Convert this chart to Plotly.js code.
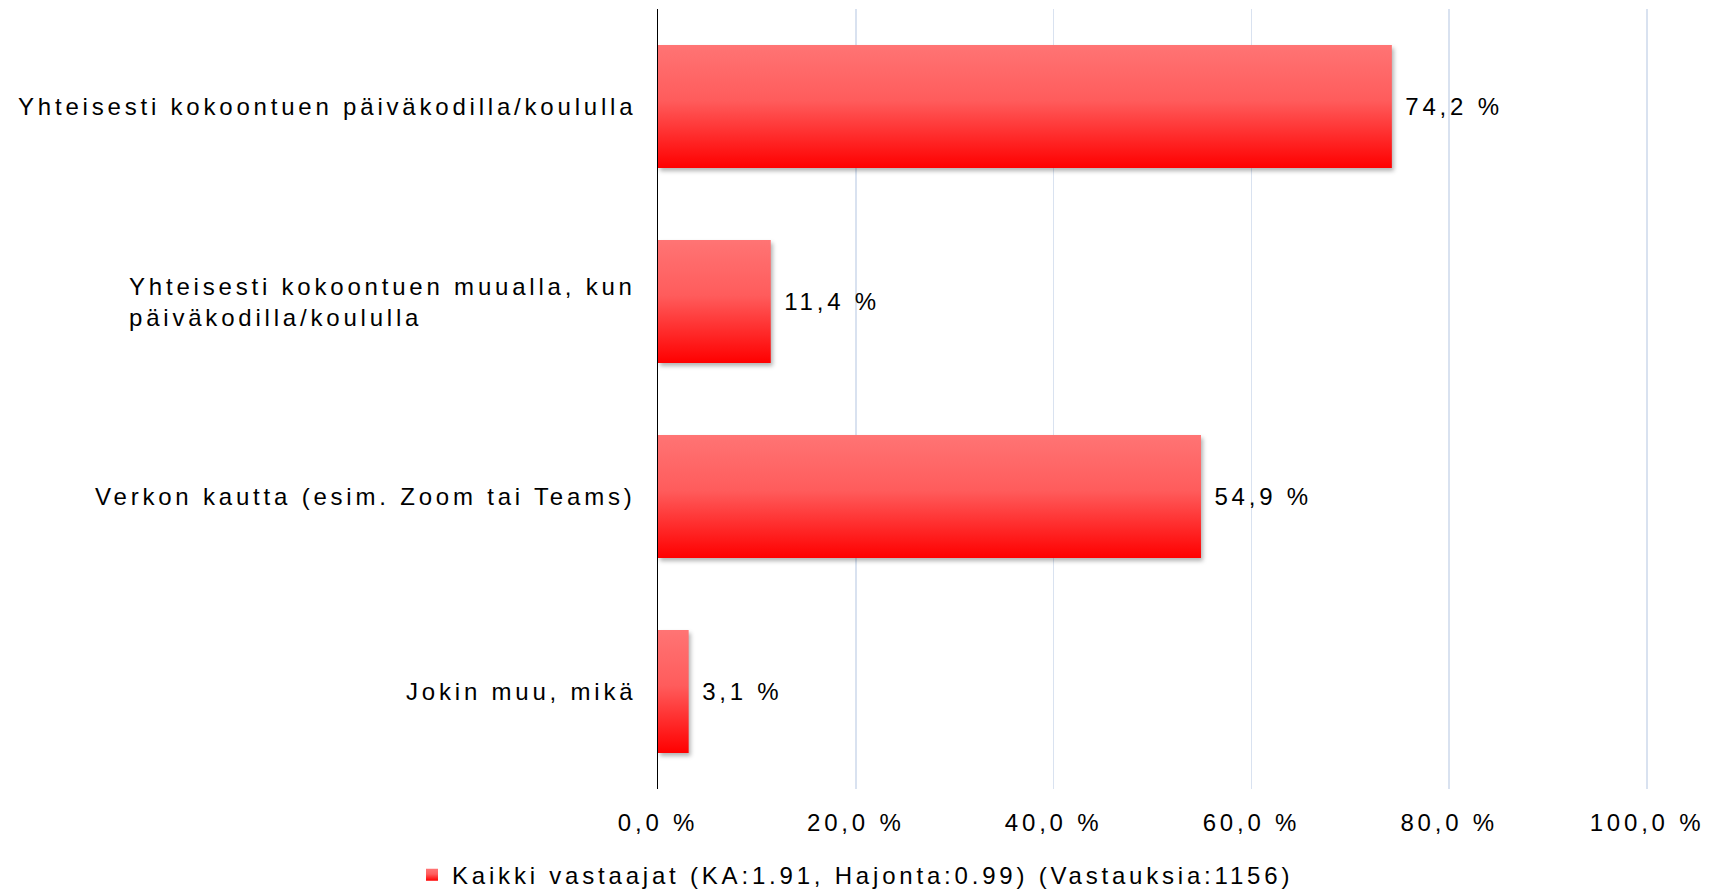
<!DOCTYPE html>
<html>
<head>
<meta charset="utf-8">
<script src="https://cdn.plot.ly/plotly-3.0.1.min.js"></script>
<style>
  html, body { margin: 0; padding: 0; background: #fff; }
  #chart { width: 1711px; height: 893px; }
  svg text { letter-spacing: 3.8px; }
</style>
</head>
<body>
<div id="chart"></div>
<script>
// Data
const categories = [
  "Yhteisesti kokoontuen päiväkodilla/koululla",
  "Yhteisesti kokoontuen muualla, kun päiväkodilla/koululla",
  "Verkon kautta (esim. Zoom tai Teams)",
  "Jokin muu, mikä"
];
const categoryLabels = [
  "Yhteisesti kokoontuen päiväkodilla/koululla",
  "Yhteisesti kokoontuen muualla, kun<br>päiväkodilla/koululla",
  "Verkon kautta (esim. Zoom tai Teams)",
  "Jokin muu, mikä"
];
const values = [74.2, 11.4, 54.9, 3.1];
const seriesName = "Kaikki vastaajat (KA:1.91, Hajonta:0.99) (Vastauksia:1156)";
const xTicks = [0, 20, 40, 60, 80, 100];
const xTickText = ["0,0 %", "20,0 %", "40,0 %", "60,0 %", "80,0 %", "100,0 %"];

const font = { family: "Liberation Sans, Arial, sans-serif", size: 24, color: "#000" };

const trace = {
  type: "bar",
  orientation: "h",
  y: categories,
  x: values,
  name: seriesName,
  width: 0.63,
  marker: { color: "#ff3a3a", line: { width: 0 } },
  texttemplate: " %{x:.1f} %",
  textposition: "outside",
  textfont: font,
  cliponaxis: false,
  showlegend: true,
  hoverinfo: "x+y"
};

const annotations = categories.map((c, i) => ({
  xref: "paper", yref: "y",
  x: 0, y: c,
  xanchor: "right", yanchor: "middle",
  xshift: -20,
  align: "left",
  text: categoryLabels[i],
  showarrow: false,
  font: font
}));

const layout = {
  width: 1711, height: 893,
  margin: { l: 658, r: 61, t: 9, b: 104 },
  paper_bgcolor: "#fff",
  plot_bgcolor: "#fff",
  separators: ", ",
  font: font,
  showlegend: true,
  legend: {
    orientation: "h",
    xref: "container", yref: "container",
    x: 0.5, xanchor: "center",
    y: 0.02, yanchor: "middle",
    font: font,
    itemwidth: 30,
    itemsizing: "constant"
  },
  xaxis: {
    range: [0, 100.3],
    tickmode: "array",
    tickvals: xTicks,
    ticktext: xTickText,
    showgrid: true,
    gridcolor: "#d9e2f0",
    gridwidth: 1.5,
    zeroline: false,
    showline: false,
    ticks: "",
    ticklabelstandoff: 17,
    tickfont: font,
    fixedrange: true
  },
  yaxis: {
    autorange: "reversed",
    showticklabels: false,
    showgrid: false,
    zeroline: false,
    showline: true,
    linecolor: "#000",
    linewidth: 1.5,
    ticks: "",
    fixedrange: true
  },
  annotations: annotations,
  bargap: 0.37
};

const gd = document.getElementById("chart");
Plotly.newPlot(gd, [trace], layout, { displayModeBar: false, staticPlot: true }).then(() => {
  const svgNS = "http://www.w3.org/2000/svg";
  const svg = gd.querySelector(".main-svg");
  let defs = svg.querySelector("defs");
  if (!defs) { defs = document.createElementNS(svgNS, "defs"); svg.insertBefore(defs, svg.firstChild); }
  const grad = document.createElementNS(svgNS, "linearGradient");
  grad.setAttribute("id", "barGrad");
  grad.setAttribute("x1", "0"); grad.setAttribute("y1", "0");
  grad.setAttribute("x2", "0"); grad.setAttribute("y2", "1");
  [["0", "#ff7474"], ["0.45", "#ff5c5c"], ["1", "#ff0000"]].forEach(([o, c]) => {
    const s = document.createElementNS(svgNS, "stop");
    s.setAttribute("offset", o); s.setAttribute("stop-color", c);
    grad.appendChild(s);
  });
  defs.appendChild(grad);
  gd.querySelectorAll(".bars .point path").forEach(p => {
    p.style.fill = "url(#barGrad)";
    p.style.filter = "drop-shadow(2px 3px 2px rgba(0,0,0,0.3))";
  });
  gd.querySelectorAll(".legendpoints path").forEach(p => {
    p.style.fill = "url(#barGrad)";
  });
});
</script>
</body>
</html>
